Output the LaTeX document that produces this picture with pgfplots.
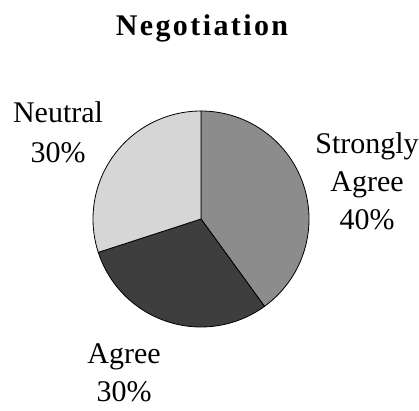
\documentclass[border=0pt]{standalone}
\usepackage{pgfplots}
\pgfplotsset{compat=1.18}
\usepackage{fontspec}
\setmainfont{Liberation Serif}
\newfontfamily\titlefont[LetterSpace=8]{Liberation Serif}
\definecolor{cSA}{HTML}{8C8C8C}
\definecolor{cAG}{HTML}{3E3E3E}
\definecolor{cNE}{HTML}{D6D6D6}
% shares (percent)
\def\pSA{40}
\def\pAG{30}
\def\pNE{30}
\pgfmathsetmacro{\aA}{90}
\pgfmathsetmacro{\aB}{90-3.6*\pSA}
\pgfmathsetmacro{\aC}{\aB-3.6*\pAG}
\pgfmathsetmacro{\aD}{\aC-3.6*\pNE}
\def\cx{201}
\def\cy{191}
\def\rr{108}
\begin{document}
\fontsize{30pt}{38pt}\selectfont
\begin{tikzpicture}
\useasboundingbox (0,0) rectangle (419pt,410pt);
\begin{axis}[
  at={(0,0)}, anchor=south west,
  width=419pt, height=410pt, scale only axis,
  xmin=0, xmax=419, ymin=0, ymax=410,
  hide axis, clip=false,
]
\addplot[fill=cSA, draw=black, line width=0.8pt, domain=\aB:\aA, samples=80]
  ({\cx+\rr*cos(x)},{\cy+\rr*sin(x)}) -- (axis cs:\cx,\cy) -- cycle;
\addplot[fill=cAG, draw=black, line width=0.8pt, domain=\aC:\aB, samples=80]
  ({\cx+\rr*cos(x)},{\cy+\rr*sin(x)}) -- (axis cs:\cx,\cy) -- cycle;
\addplot[fill=cNE, draw=black, line width=0.8pt, domain=\aD:\aC, samples=80]
  ({\cx+\rr*cos(x)},{\cy+\rr*sin(x)}) -- (axis cs:\cx,\cy) -- cycle;
\node[anchor=base, inner sep=0pt, font=\titlefont\bfseries\fontsize{30pt}{38pt}\selectfont] at (axis cs:202,374) {Negotiation};
\node[anchor=base, inner sep=0pt, align=center, font=\fontsize{30pt}{39pt}\selectfont] at (axis cs:58,248) {Neutral\\30\%};
\node[anchor=base, inner sep=0pt, align=center, font=\fontsize{30pt}{38pt}\selectfont] at (axis cs:367,181) {Strongly\\Agree\\40\%};
\node[anchor=base, inner sep=0pt, align=center, font=\fontsize{30pt}{38pt}\selectfont] at (axis cs:124,9) {Agree\\30\%};
\end{axis}
\end{tikzpicture}
\end{document}
